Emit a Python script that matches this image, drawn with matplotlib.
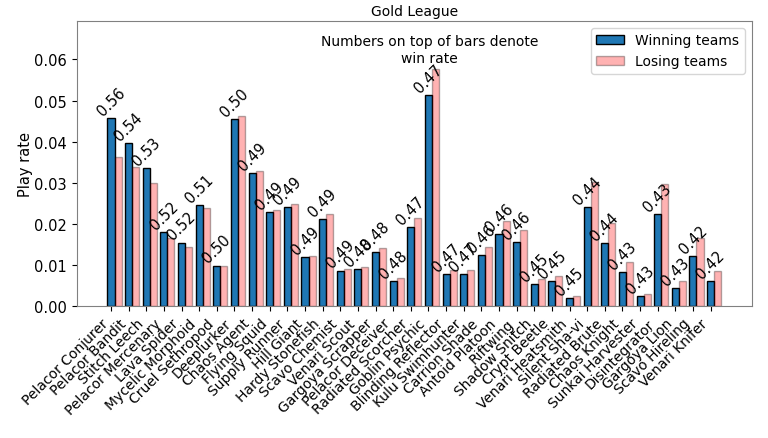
import matplotlib
matplotlib.use('Agg')
import matplotlib.pyplot as plt
import numpy as np

units = ['Pelacor Conjurer', 'Pelacor Bandit', 'Stitch Leech', 'Pelacor Mercenary',
         'Lava Spider', 'Mycelic Morphoid', 'Cruel Sethropod', 'Deeplurker',
         'Chaos Agent', 'Flying Squid', 'Supply Runner', 'Hill Giant',
         'Hardy Stonefish', 'Scavo Chemist', 'Venari Scout', 'Gargoya Scrapper',
         'Pelacor Deceiver', 'Radiated Scorcher', 'Goblin Psychic', 'Blinding Reflector',
         'Kulu Swimhunter', 'Carrion Shade', 'Antoid Platoon', 'Riftwing',
         'Shadow Snitch', 'Crypt Beetle', 'Venari Heatsmith', 'Silent Sha-vi',
         'Radiated Brute', 'Chaos Knight', 'Sunkai Harvester', 'Disintegrator',
         'Gargoya Lion', 'Scavo Hireling', 'Venari Knifer']

win_play = [0.0457, 0.0396, 0.0337, 0.0180, 0.0155, 0.0246, 0.0099, 0.0456,
            0.0323, 0.0228, 0.0242, 0.0119, 0.0212, 0.0087, 0.0090, 0.0132,
            0.0062, 0.0192, 0.0514, 0.0079, 0.0079, 0.0124, 0.0175, 0.0156,
            0.0055, 0.0061, 0.0019, 0.0242, 0.0153, 0.0083, 0.0024, 0.0224,
            0.0045, 0.0123, 0.0062]

lose_play = [0.0363, 0.0338, 0.0300, 0.0165, 0.0145, 0.0238, 0.0099, 0.0463,
             0.0330, 0.0233, 0.0248, 0.0122, 0.0224, 0.0091, 0.0096, 0.0142,
             0.0068, 0.0215, 0.0578, 0.0089, 0.0089, 0.0143, 0.0207, 0.0185,
             0.0067, 0.0074, 0.0024, 0.0303, 0.0202, 0.0108, 0.0031, 0.0297,
             0.0062, 0.0167, 0.0085]

win_rate = [0.56, 0.54, 0.53, 0.52, 0.52, 0.51, 0.50, 0.50, 0.49, 0.49, 0.49, 0.49,
            0.49, 0.49, 0.48, 0.48, 0.48, 0.47, 0.47, 0.47, 0.47, 0.46, 0.46, 0.46,
            0.45, 0.45, 0.45, 0.44, 0.44, 0.43, 0.43, 0.43, 0.43, 0.42, 0.42]

x = np.arange(len(units))
w = 0.4

fig, ax = plt.subplots(figsize=(7.68, 4.39), dpi=100)
fig.subplots_adjust(left=0.1, right=0.979, top=0.95, bottom=0.3)

ax.bar(x, win_play, w, color='tab:blue', edgecolor='black', label='Winning teams')
ax.bar(x + w, lose_play, w, color='red', alpha=0.3, edgecolor='black', label='Losing teams')

# win rate on top of each winning bar
for xi, h, r in zip(x, win_play, win_rate):
    ax.text(xi, h, f'{r:.2f}', ha='center', va='bottom', rotation=45, fontsize=10.5)

ax.set_ylim(0, max(lose_play) * 1.2)
ax.set_xticks(x)
ax.set_xticklabels(units, rotation=45, ha='right', fontsize=10)
ax.tick_params(axis='y', labelsize=10.5)
ax.set_ylabel('Play rate', fontsize=10.5, labelpad=1)
ax.set_title('Gold League', fontsize=10, pad=4)
for s in ax.spines.values():
    s.set_edgecolor('gray')

ax.text(0.523, 0.9, 'Numbers on top of bars denote\nwin rate', transform=ax.transAxes,
        ha='center', va='center', fontsize=10)
ax.legend(loc='upper right', fontsize=10)

plt.savefig('out.png')
